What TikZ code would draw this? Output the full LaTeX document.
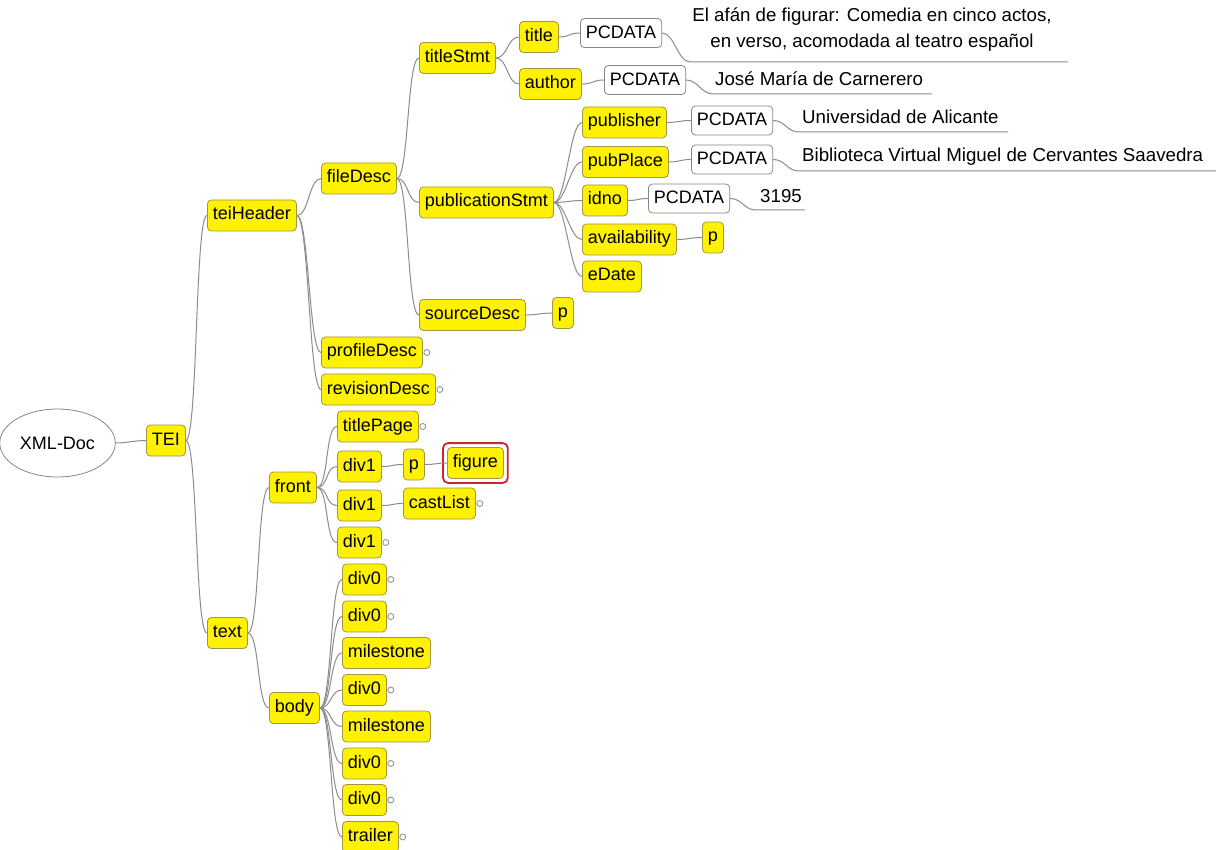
\documentclass[tikz,border=0pt]{standalone}
\usepackage{fontspec}
\setmainfont{Liberation Sans}
\usetikzlibrary{shapes.geometric}
\definecolor{elborder}{RGB}{160,150,70}
\definecolor{connc}{RGB}{140,140,140}
\definecolor{pcborder}{RGB}{135,135,135}
\definecolor{selred}{RGB}{200,40,45}
\tikzset{
  el/.style={rectangle, rounded corners=4pt, fill=yellow, draw=elborder, line width=0.8pt,
    font=\fontsize{18}{20}\selectfont, text height=13pt, text depth=4pt,
    inner xsep=5.5pt, inner ysep=7pt, anchor=west},
  pcd/.style={rectangle, rounded corners=4pt, fill=white, draw=pcborder, line width=0.8pt,
    font=\fontsize{18}{20}\selectfont, text height=13pt, text depth=2pt,
    inner xsep=5.5pt, inner ysep=7pt, anchor=west},
  leaftext/.style={font=\fontsize{18.7}{26}\selectfont, inner sep=0pt, anchor=west},
  conn/.style={draw=connc, line width=1pt},
  cv/.style={out=0, in=180, distance=12pt},
  knob/.style={draw=connc, fill=white, line width=0.8pt},
  selbox/.style={draw=selred, line width=1.8pt, rounded corners=5pt}
}
\begin{document}
\begin{tikzpicture}[x=1pt, y=-1pt]
\useasboundingbox (0,0) rectangle (1216,850);
\fill[white] (0,0) rectangle (1216,850);

% nodes
\node[ellipse, draw=pcborder, fill=white, line width=0.8pt, minimum width=97pt, minimum height=68pt,
  font=\fontsize{18}{20}\selectfont] (xml) at (57.5,443) {XML-Doc};
\node[el] (tei) at (146,440.5) {TEI};
\node[el] (hdr) at (207,215.5) {teiHeader};
\node[el] (txt) at (207,633) {text};
\node[el] (fdesc) at (321,178.5) {fileDesc};
\node[el] (prof) at (321,352.5) {profileDesc};
\node[el] (rev) at (321,389.5) {revisionDesc};
\node[el] (tstmt) at (419,58) {titleStmt};
\node[el] (pstmt) at (419,202.5) {publicationStmt};
\node[el] (sdesc) at (419,315) {sourceDesc};
\node[el] (title) at (519,37) {title};
\node[el] (author) at (519,84) {author};
\node[pcd] (pc1) at (580,33) {PCDATA};
\node[pcd] (pc2) at (604,80) {PCDATA};
\node[el] (publ) at (582,122.5) {publisher};
\node[el] (pplace) at (582,162) {pubPlace};
\node[el] (idno) at (582,200.5) {idno};
\node[el] (avail) at (582,239.5) {availability};
\node[el] (edate) at (582,276.5) {eDate};
\node[pcd] (pc3) at (691,120.5) {PCDATA};
\node[pcd] (pc4) at (691,159.5) {PCDATA};
\node[pcd] (pc5) at (648,198.5) {PCDATA};
\node[el] (pa) at (702,237.5) {p};
\node[el] (ps) at (552,313) {p};
\node[el] (front) at (269,487.5) {front};
\node[el] (body) at (269,708) {body};
\node[el] (tpage) at (337,426.5) {titlePage};
\node[el] (diva) at (337,466.5) {div1};
\node[el] (divb) at (337,505.5) {div1};
\node[el] (divc) at (337,542.5) {div1};
\node[el] (pd) at (403,464.5) {p};
\node[el] (fig) at (447,463) {figure};
\node[el] (cast) at (403,503.5) {castList};
\node[el] (za) at (342,579.5) {div0};
\node[el] (zb) at (342,616.5) {div0};
\node[el] (ma) at (342,653) {milestone};
\node[el] (zc) at (342,690) {div0};
\node[el] (mb) at (342,726.5) {milestone};
\node[el] (zd) at (342,763.5) {div0};
\node[el] (ze) at (342,800) {div0};
\node[el] (trl) at (342,837) {trailer};

% selection frame round figure
\draw[selbox] ([xshift=-4pt,yshift=4pt]fig.north west) rectangle ([xshift=4pt,yshift=-4pt]fig.south east);

% leaf texts
\node[font=\fontsize{18.7}{26}\selectfont, align=center, inner sep=0pt] (t1) at (872,30)
  {El afán de figurar: Comedia en cinco actos,\\en verso, acomodada al teatro español};
\node[leaftext] (t2) at (715,79) {José María de Carnerero};
\node[leaftext] (t3) at (802,117) {Universidad de Alicante};
\node[leaftext] (t4) at (802,157) {Biblioteca Virtual Miguel de Cervantes Saavedra};
\node[leaftext] (t5) at (760,196) {3195};
\coordinate (u1s) at (690,62);  \coordinate (u1e) at (1068,62);
\coordinate (u2s) at (713,94);  \coordinate (u2e) at (932,94);
\coordinate (u3s) at (799,132); \coordinate (u3e) at (1008,132);
\coordinate (u4s) at (799,171); \coordinate (u4e) at (1216,171);
\coordinate (u5s) at (756,210); \coordinate (u5e) at (805,210);

% connectors
\draw[conn] (xml.east) to[cv] (tei.west);
\draw[conn] (tei.east) to[cv] (hdr.west);
\draw[conn] (tei.east) to[cv] (txt.west);
\foreach \c in {fdesc,prof,rev} \draw[conn] (hdr.east) to[cv] (\c.west);
\foreach \c in {tstmt,pstmt,sdesc} \draw[conn] (fdesc.east) to[cv] (\c.west);
\foreach \c in {title,author} \draw[conn] (tstmt.east) to[cv] (\c.west);
\draw[conn] (title.east) to[cv] (pc1.west);
\draw[conn] (author.east) to[cv] (pc2.west);
\foreach \c in {publ,pplace,idno,avail,edate} \draw[conn] (pstmt.east) to[cv] (\c.west);
\draw[conn] (publ.east) to[cv] (pc3.west);
\draw[conn] (pplace.east) to[cv] (pc4.west);
\draw[conn] (idno.east) to[cv] (pc5.west);
\draw[conn] (avail.east) to[cv] (pa.west);
\draw[conn] (sdesc.east) to[cv] (ps.west);
\draw[conn] (pc1.east) to[cv] (u1s) -- (u1e);
\draw[conn] (pc2.east) to[cv] (u2s) -- (u2e);
\draw[conn] (pc3.east) to[cv] (u3s) -- (u3e);
\draw[conn] (pc4.east) to[cv] (u4s) -- (u4e);
\draw[conn] (pc5.east) to[cv] (u5s) -- (u5e);
\foreach \c in {front,body} \draw[conn] (txt.east) to[cv] (\c.west);
\foreach \c in {tpage,diva,divb,divc} \draw[conn] (front.east) to[cv] (\c.west);
\draw[conn] (diva.east) to[cv] (pd.west);
\draw[conn] (pd.east) to[cv] (fig.west);
\draw[conn] (divb.east) to[cv] (cast.west);
\foreach \c in {za,zb,ma,zc,mb,zd,ze,trl} \draw[conn] (body.east) to[cv] (\c.west);

% collapsed markers
\foreach \c in {prof,rev,tpage,cast,divc,za,zb,zc,zd,ze,trl}
  \draw[knob] ([xshift=4pt]\c.east) circle (3pt);
\end{tikzpicture}
\end{document}
